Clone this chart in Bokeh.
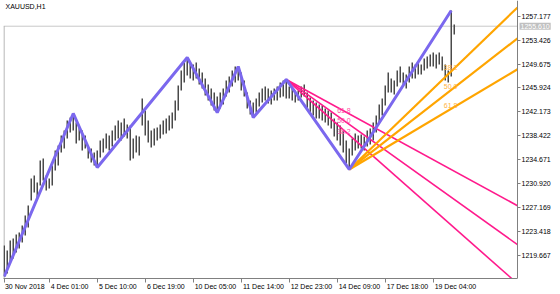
from bokeh.plotting import figure
from bokeh.models import Range1d, FixedTicker, PrintfTickFormatter, Label
from bokeh.core.properties import value
from bokeh.embed import file_html
from bokeh.resources import INLINE

# ---------------- data ----------------
# XAUUSD H1 price bars (one entry per two hourly bars): high and low prices
bar_high = [
    1221.24, 1220.45, 1222.02, 1222.33, 1222.96, 1223.27, 1224.37, 1225.94, 1227.50, 1231.74,
    1232.21, 1231.11, 1234.56, 1234.87, 1232.21, 1231.74, 1233.78, 1236.13, 1236.91, 1238.48,
    1239.26, 1240.83, 1241.30, 1241.93, 1240.52, 1240.05, 1239.26, 1238.48, 1236.91, 1236.44,
    1235.81, 1236.13, 1237.70, 1238.01, 1238.79, 1238.48, 1239.26, 1240.05, 1240.83, 1240.52,
    1241.14, 1240.20, 1240.05, 1238.01, 1238.48, 1238.32, 1244.28, 1242.40, 1240.83, 1239.26,
    1239.58, 1239.73, 1240.20, 1240.83, 1241.14, 1241.61, 1242.08, 1243.97, 1246.32, 1248.67,
    1249.92, 1250.70, 1249.92, 1249.61, 1249.92, 1248.98, 1248.35, 1247.41, 1246.47, 1245.85,
    1245.22, 1244.59, 1245.22, 1245.85, 1247.10, 1247.73, 1248.67, 1249.29, 1249.29, 1248.35,
    1247.10, 1245.22, 1243.97, 1243.65, 1244.28, 1245.22, 1245.85, 1246.16, 1245.85, 1245.53,
    1245.85, 1246.16, 1246.79, 1247.10, 1247.26, 1246.16, 1245.85, 1245.53, 1245.53, 1246.16,
    1246.47, 1245.22, 1244.44, 1243.97, 1243.65, 1243.34, 1243.18, 1242.71, 1242.40, 1242.08,
    1241.14, 1240.52, 1240.05, 1239.26, 1237.70, 1236.44, 1238.01, 1238.79, 1238.48, 1238.64,
    1238.32, 1239.26, 1239.58, 1240.52, 1241.61, 1243.34, 1244.28, 1246.32, 1248.35, 1247.41,
    1247.10, 1248.67, 1249.29, 1248.35, 1248.04, 1249.29, 1249.92, 1249.61, 1249.92, 1249.61,
    1250.55, 1250.86, 1251.17, 1251.49, 1251.17, 1251.49, 1250.86, 1249.61, 1248.67, 1258.07,
    1255.88,
]
bar_low = [
    1216.38, 1216.85, 1218.57, 1219.20, 1220.14, 1220.77, 1221.71, 1222.80, 1224.06, 1228.29,
    1229.54, 1228.29, 1230.64, 1231.42, 1229.86, 1230.17, 1230.64, 1232.99, 1233.78, 1235.81,
    1236.44, 1238.01, 1238.95, 1239.26, 1237.23, 1237.70, 1236.13, 1236.44, 1234.87, 1234.25,
    1233.78, 1233.46, 1235.03, 1235.81, 1236.44, 1236.13, 1236.75, 1237.70, 1238.01, 1237.70,
    1238.32, 1238.01, 1234.56, 1234.87, 1235.81, 1235.34, 1240.05, 1238.48, 1237.38, 1236.60,
    1236.91, 1237.70, 1238.01, 1238.64, 1238.79, 1239.26, 1239.58, 1240.83, 1242.40, 1245.53,
    1246.79, 1247.88, 1247.41, 1247.10, 1247.41, 1246.47, 1245.85, 1244.75, 1243.97, 1243.18,
    1242.40, 1242.08, 1242.71, 1243.34, 1244.59, 1245.22, 1246.16, 1246.79, 1247.10, 1245.53,
    1244.59, 1242.71, 1241.77, 1241.30, 1242.08, 1243.02, 1243.65, 1243.97, 1243.49, 1243.34,
    1243.97, 1243.97, 1244.44, 1244.59, 1244.28, 1244.28, 1243.97, 1243.65, 1243.97, 1244.44,
    1244.59, 1242.71, 1242.08, 1241.61, 1241.14, 1241.14, 1240.83, 1240.52, 1240.05, 1239.58,
    1238.32, 1237.70, 1236.91, 1235.81, 1234.09, 1233.15, 1235.34, 1236.13, 1236.44, 1236.44,
    1236.13, 1236.75, 1237.07, 1237.70, 1238.95, 1240.52, 1241.61, 1243.18, 1245.22, 1245.22,
    1244.91, 1246.16, 1246.79, 1246.16, 1245.85, 1246.79, 1247.41, 1247.41, 1248.04, 1248.04,
    1248.67, 1248.98, 1249.29, 1249.29, 1248.98, 1249.61, 1248.67, 1247.10, 1246.79, 1247.73,
    1254.31,
]
bar_step = 2  # hourly bars per entry

# ZigZag turning points: bar number and price
zz_bar = [0, 46, 62, 122, 142, 156, 166, 188, 230, 298]
zz_price = [1216.38, 1241.93, 1233.46, 1250.70, 1242.08, 1249.29, 1241.30, 1247.26, 1233.15, 1258.07]

fib_levels = [61.8, 50.0, 38.2]
bid_price = 1255.610

y_ticks = [1219.667, 1223.418, 1227.169, 1230.920, 1234.671, 1238.422,
           1242.173, 1245.924, 1249.675, 1253.426, 1257.177]
x_tick_bars = [0, 30, 62, 94, 126, 158, 190, 222, 254, 286]
x_tick_labels = ["30 Nov 2018", "4 Dec 01:00", "5 Dec 10:00", "6 Dec 19:00", "10 Dec 05:00",
                 "11 Dec 14:00", "12 Dec 23:00", "14 Dec 09:00", "17 Dec 18:00", "19 Dec 04:00"]

# ---------------- layout ----------------
PX_PER_BAR = 1.5
CHART_W = 514      # chart area width in px (price axis sits at its right edge)
FRAME_W = 554      # frame also covers the price-label strip
X0 = -0.5
XA = X0 + CHART_W / PX_PER_BAR     # location of the price axis
X1 = X0 + FRAME_W / PX_PER_BAR
Y0, Y1 = 1216.06, 1259.64
FONT = "Liberation Sans"
AX_COLOR = "#808080"

p = figure(width=560, height=294, x_range=Range1d(X0, X1), y_range=Range1d(Y0, Y1),
           output_backend="svg", toolbar_location=None, y_axis_location="right",
           min_border_left=3, min_border_right=3, min_border_top=0, min_border_bottom=16,
           background_fill_color="white", border_fill_color="white", outline_line_color=None)
p.xgrid.visible = False
p.ygrid.visible = False

# time axis: tick marks at bar positions, labels just right of each tick
lbl_pos = [round(t + (3.45 * len(s) / 2 + 1.5) / PX_PER_BAR, 1) for t, s in zip(x_tick_bars, x_tick_labels)]
xa = p.xaxis[0]
xa.ticker = FixedTicker(ticks=lbl_pos, minor_ticks=x_tick_bars)
xa.major_label_overrides = {pos: s for pos, s in zip(lbl_pos, x_tick_labels)}
xa.bounds = (X0, XA)
xa.major_tick_line_color = None
xa.major_tick_out = 3
xa.major_tick_in = 0
xa.minor_tick_line_color = AX_COLOR
xa.minor_tick_out = 4
xa.minor_tick_in = 0
xa.major_label_standoff = 0
xa.axis_line_color = AX_COLOR
xa.major_label_text_font = FONT
xa.major_label_text_font_size = "7px"
xa.major_label_text_color = "#000000"

# price axis, fixed at the right edge of the chart area
ya = p.yaxis[0]
ya.fixed_location = XA
ya.ticker = FixedTicker(ticks=y_ticks)
ya.formatter = PrintfTickFormatter(format="%.3f")
ya.major_tick_out = 3
ya.major_tick_in = 0
ya.minor_tick_line_color = None
ya.major_tick_line_color = AX_COLOR
ya.axis_line_color = AX_COLOR
ya.major_label_standoff = 1
ya.major_label_text_font = FONT
ya.major_label_text_font_size = "7px"
ya.major_label_text_color = "#000000"

# bid line and left frame edge
p.segment(x0=[X0], y0=[bid_price], x1=[XA], y1=[bid_price], line_color="#c8c8c8", line_width=1)
p.segment(x0=[X0 + 0.35], y0=[Y0], x1=[X0 + 0.35], y1=[bid_price], line_color="#a0a0a0", line_width=1)

# price bars
bar_x = [i * bar_step for i in range(len(bar_high))]
p.segment(x0=bar_x, y0=bar_low, x1=bar_x, y1=bar_high, line_color="#4a4a4a", line_width=1.5)


def fan(i0, i1, color, width, label_dx, align, label_color):
    xa0, ya0 = zz_bar[i0], zz_price[i0]
    xa1, ya1 = zz_bar[i1], zz_price[i1]
    xs, ys, tx, ty, tt = [], [], [], [], []
    for L in fib_levels:
        lv = ya1 + L / 100.0 * (ya0 - ya1)
        slope = (lv - ya0) / (xa1 - xa0)
        xe = XA
        ye = ya0 + slope * (xe - xa0)
        if ye < Y0:  # leaves through the bottom edge
            xe = xa0 + (Y0 - 0.5 - ya0) / slope
            ye = ya0 + slope * (xe - xa0)
        xs.append([xa0, xe])
        ys.append([ya0, ye])
        tx.append(xa1 + label_dx)
        ty.append(lv)
        tt.append("%.1f" % L)
    p.multi_line(xs=xs, ys=ys, line_color=color, line_width=width)
    p.text(x=tx, y=ty, text=tt, text_font=value(FONT), text_font_size="7px",
           text_color=label_color, text_align=align, text_baseline="bottom", y_offset=-1)


fan(7, 8, "#ff1a8c", 1.6, 1, "right", "#ff4da6")
fan(8, 9, "#ffa500", 2.2, -5, "left", "#ffb240")

# zigzag
p.line(zz_bar, zz_price, line_color="#7b68ee", line_width=3)

# title and bid label
p.add_layout(Label(x=X0, y=Y1, x_offset=2, y_offset=-2, text="XAUUSD,H1", text_font=FONT,
                   text_font_size="7px", text_color="#000000", text_baseline="top"))
p.add_layout(Label(x=XA, y=bid_price, x_offset=2, text="%.3f" % bid_price, text_font=FONT,
                   text_font_size="7px", text_color="#ffffff", text_baseline="middle",
                   background_fill_color="#c0c0c0", padding=1))

open("out.html", "w").write(file_html(p, INLINE))
